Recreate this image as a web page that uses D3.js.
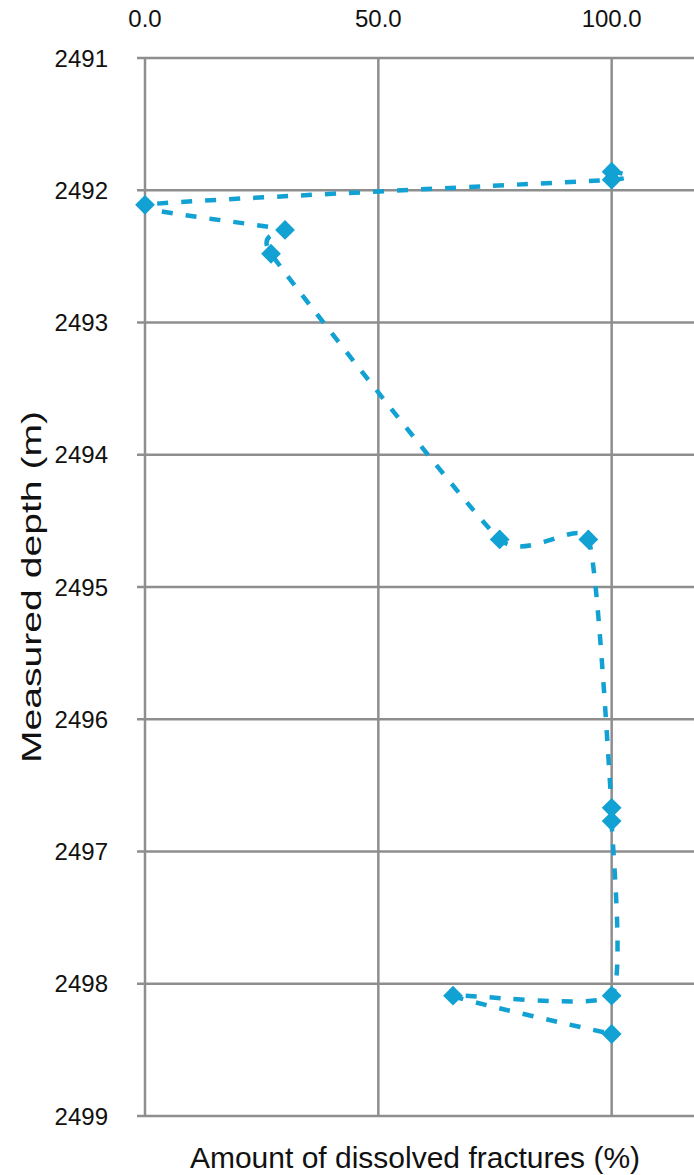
<!DOCTYPE html>
<html>
<head>
<meta charset="utf-8">
<script src="https://cdn.jsdelivr.net/npm/d3@7"></script>
<style>
  body { margin: 0; background: #fff; }
  svg { display: block; font-family: "Liberation Sans", Arial, sans-serif; }
</style>
</head>
<body>
<div id="stage"></div>
<script>
// amount of dissolved fractures (%) vs measured depth (m), in data order
const amount = [100, 100, 0, 30, 27, 76, 95, 100, 100, 100, 66, 100];
const depth = [2491.86, 2491.92, 2492.11, 2492.3, 2492.48, 2494.64, 2494.64, 2496.67, 2496.77, 2498.09, 2498.09, 2498.38];
const xTicks = [0, 50, 100];
const yTicks = [2491, 2492, 2493, 2494, 2495, 2496, 2497, 2498, 2499];

const width = 694;
const height = 1175;
const blue = "#12a1d3";
const grid = "#8e8e8e";

const svg = d3.select("#stage").append("svg")
  .attr("width", width)
  .attr("height", height);

const x = d3.scaleLinear().domain([0, 120]).range([145, 705]);
const y = d3.scaleLinear().domain([2491, 2499]).range([58, 1116]);

// horizontal grid lines (with little tick stubs on the left)
svg.append("g")
  .selectAll("line")
  .data(yTicks)
  .join("line")
  .attr("x1", 137)
  .attr("x2", width)
  .attr("y1", d => y(d))
  .attr("y2", d => y(d))
  .attr("stroke", grid)
  .attr("stroke-width", 2.5);

// vertical grid lines
svg.append("g")
  .selectAll("line")
  .data(xTicks)
  .join("line")
  .attr("x1", d => x(d))
  .attr("x2", d => x(d))
  .attr("y1", y(2491))
  .attr("y2", y(2499))
  .attr("stroke", grid)
  .attr("stroke-width", 2.5);

// top tick labels
svg.append("g")
  .selectAll("text")
  .data(xTicks)
  .join("text")
  .attr("x", d => x(d))
  .attr("y", 27)
  .attr("text-anchor", "middle")
  .attr("font-size", 24)
  .attr("fill", "#111")
  .text(d => d3.format(".1f")(d));

// left tick labels
svg.append("g")
  .selectAll("text")
  .data(yTicks)
  .join("text")
  .attr("x", 108)
  .attr("y", d => y(d))
  .attr("dy", "0.36em")
  .attr("text-anchor", "end")
  .attr("font-size", 24)
  .attr("fill", "#111")
  .text(d => d);

// axis titles
svg.append("text")
  .attr("transform", `translate(41,${y(2495)}) rotate(-90)`)
  .attr("text-anchor", "middle")
  .attr("font-size", 28)
  .attr("textLength", 352)
  .attr("lengthAdjust", "spacingAndGlyphs")
  .attr("fill", "#111")
  .text("Measured depth (m)");

svg.append("text")
  .attr("x", 415)
  .attr("y", 1168)
  .attr("text-anchor", "middle")
  .attr("font-size", 30)
  .attr("fill", "#111")
  .text("Amount of dissolved fractures (%)");

const pts = amount.map((a, i) => [a, depth[i]]);

const line = d3.line()
  .x(d => x(d[0]))
  .y(d => y(d[1]))
  .curve(d3.curveCardinal.tension(0.5));

svg.append("path")
  .attr("d", line(pts))
  .attr("fill", "none")
  .attr("stroke", blue)
  .attr("stroke-width", 4.5)
  .attr("stroke-dasharray", "11,13");

svg.append("g")
  .selectAll("path")
  .data(pts)
  .join("path")
  .attr("transform", d => `translate(${x(d[0])},${y(d[1])})`)
  .attr("d", d3.symbol().type(d3.symbolDiamond2).size(250))
  .attr("fill", blue);
</script>
</body>
</html>
